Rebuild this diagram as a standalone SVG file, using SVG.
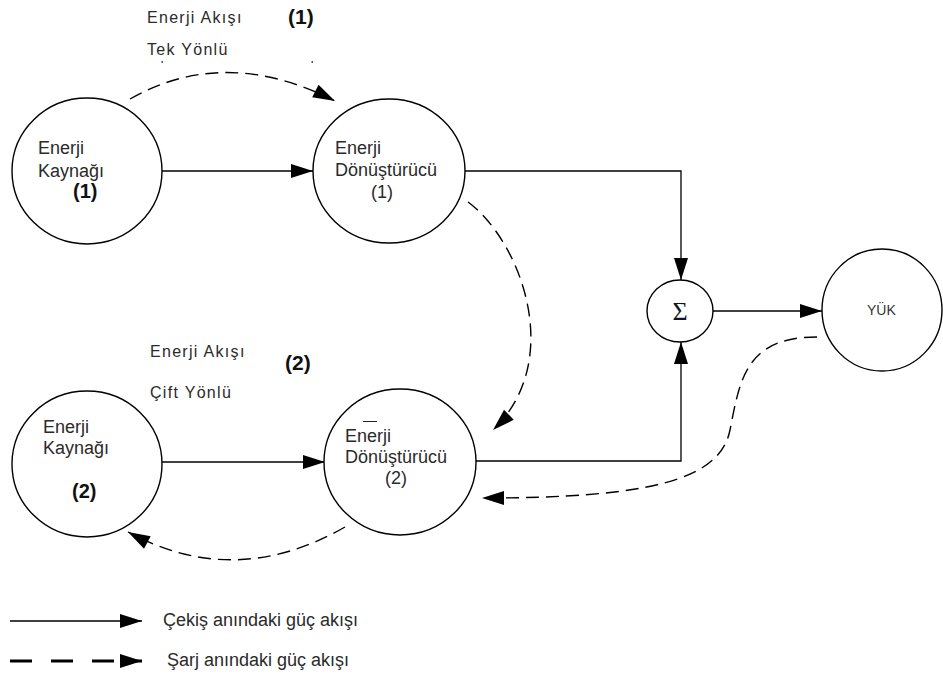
<svg xmlns="http://www.w3.org/2000/svg" width="943" height="675" viewBox="0 0 943 675">
<defs>
<marker id="ah" markerUnits="userSpaceOnUse" markerWidth="24" markerHeight="16" refX="22" refY="7" orient="auto" viewBox="0 0 24 16" overflow="visible">
<path d="M0,0 L22,7 L0,14 Z" fill="#000"/>
</marker>
<style>
.node{fill:#fff;stroke:#000;stroke-width:1.4}
.t{font-family:"Liberation Sans",Arial,sans-serif;font-size:18px;fill:#2a2a2a}
.lbl{font-family:"Liberation Sans",Arial,sans-serif;font-size:16px;fill:#2a2a2a;letter-spacing:1.3px}
.b{font-family:"Liberation Sans",Arial,sans-serif;font-weight:bold;font-size:21px;fill:#111}
.solid{fill:none;stroke:#000;stroke-width:1.3}
.dash{fill:none;stroke:#000;stroke-width:1.4;stroke-dasharray:13 7}
</style>
</defs>
<rect width="943" height="675" fill="#fff"/>

<g id="connectors">
<path class="solid" d="M162,171 L313,171" marker-end="url(#ah)"/>
<path class="solid" d="M465,171 L681,171 L681,280" marker-end="url(#ah)"/>
<path class="solid" d="M713,311 L822,311" marker-end="url(#ah)"/>
<path class="solid" d="M162,462 L325,462" marker-end="url(#ah)"/>
<path class="solid" d="M476,461 L681,461 L681,342" marker-end="url(#ah)"/>
<path class="dash" d="M130,99 Q225,45 335,101" marker-end="url(#ah)"/>
<path class="dash" d="M468,202 C520,240 566,360 493,430" marker-end="url(#ah)"/>
<path class="dash" d="M817,337 C745,337 740,380 730,430 C720,480 650,498 482,498" marker-end="url(#ah)"/>
<path class="dash" d="M345,527 Q235,590 128,532" marker-end="url(#ah)"/>
</g>

<g id="kaynak1">
<ellipse class="node" cx="87" cy="171" rx="75" ry="73"/>
<text class="t" x="38" y="154">Enerji</text>
<text class="t" x="38" y="177">Kaynağı</text>
<text class="b" x="73" y="198" style="font-size:20px">(1)</text>
</g>

<g id="donusturucu1">
<ellipse class="node" cx="389" cy="171" rx="76" ry="72"/>
<text class="t" x="335" y="154">Enerji</text>
<text class="t" x="335" y="176">Dönüştürücü</text>
<text class="t" x="371" y="198">(1)</text>
</g>

<g id="sigma">
<ellipse class="node" cx="680" cy="311" rx="33" ry="31"/>
<text x="680" y="320" text-anchor="middle" style="font-family:'Liberation Serif','Times New Roman',serif;font-size:26px;fill:#10142a">Σ</text>
</g>

<g id="yuk">
<ellipse class="node" cx="882" cy="310" rx="60" ry="61"/>
<text x="867" y="315" style="font-family:'Liberation Sans',Arial,sans-serif;font-size:14px;fill:#333">YÜK</text>
</g>

<g id="kaynak2">
<ellipse class="node" cx="87" cy="464" rx="75" ry="73"/>
<line x1="148" y1="415" x2="153" y2="424" stroke="#fff" stroke-width="3"/>
<text class="t" x="43" y="433">Enerji</text>
<text class="t" x="43" y="454">Kaynağı</text>
<text class="b" x="72" y="498" style="font-size:20px">(2)</text>
</g>

<g id="donusturucu2">
<ellipse class="node" cx="400" cy="462" rx="76" ry="73"/>
<line x1="363" y1="421.5" x2="377" y2="421.5" stroke="#222" stroke-width="1"/>
<text class="t" x="345" y="442">Enerji</text>
<text class="t" x="345" y="463">Dönüştürücü</text>
<text class="t" x="385" y="484">(2)</text>
</g>

<g id="labels">
<text class="lbl" x="147" y="23">Enerji Akışı</text>
<text class="b" x="288" y="24">(1)</text>
<text class="lbl" x="147" y="55">Tek Yönlü</text>
<rect x="161.5" y="61" width="1.5" height="2" fill="#555"/>
<rect x="311.5" y="61" width="1.5" height="2" fill="#555"/>
<text class="lbl" x="150" y="357">Enerji Akışı</text>
<text class="b" x="285" y="370">(2)</text>
<text class="lbl" x="150" y="398">Çift Yönlü</text>
</g>

<g id="legend">
<path class="solid" d="M10,621 L142,621" marker-end="url(#ah)"/>
<text class="t" x="163" y="626">Çekiş anındaki güç akışı</text>
<path d="M10,661 L142,661" fill="none" stroke="#000" stroke-width="3" stroke-dasharray="22 19" marker-end="url(#ah)"/>
<text class="t" x="167" y="666">Şarj anındaki güç akışı</text>
</g>
</svg>
